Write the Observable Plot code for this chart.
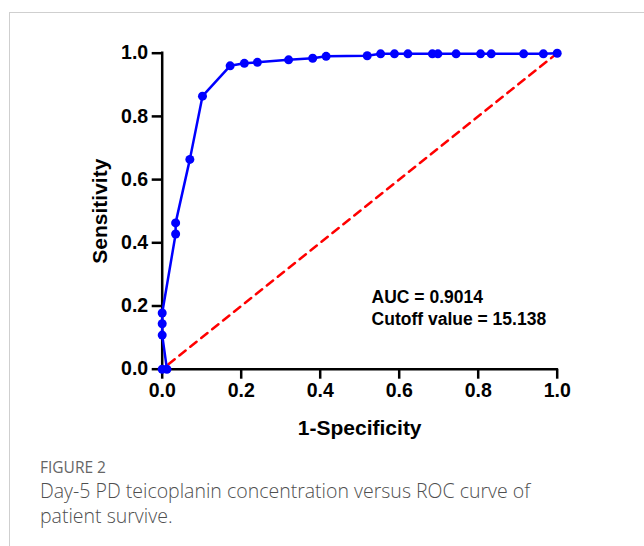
<!DOCTYPE html>
<html>
<head>
<meta charset="utf-8">
<script src="https://cdn.jsdelivr.net/npm/d3@7"></script>
<script src="https://cdn.jsdelivr.net/npm/@observablehq/plot@0.6"></script>
<style>
  html, body { margin: 0; padding: 0; background: #fff; }
  body { width: 644px; height: 546px; position: relative; overflow: hidden; }
  #frame { position: absolute; left: 9px; top: 12px; right: -2px; bottom: -2px;
           border-left: 1px solid #cfcfcf; border-top: 1px solid #cfcfcf; }
  #chart { position: absolute; left: 0; top: 0; }
  #caption { position: absolute; left: 40px; top: 456px; font-family: "Open Sans", sans-serif; color: #5f5f5f; }
  #caption .fig { font-size: 15.5px; font-weight: 400; color: #666; line-height: 22px; }
  #caption .txt { font-size: 19.5px; font-weight: 300; line-height: 25px; width: 600px; color: #4f4f4f; white-space: nowrap; }
</style>
</head>
<body>
<div id="frame"></div>
<div id="chart"></div>
<div id="caption">
  <div class="fig">FIGURE 2</div>
  <div class="txt">Day-5 PD teicoplanin concentration versus ROC curve of<br>patient survive.</div>
</div>
<script>
// ROC curve points (1-Specificity, Sensitivity), in drawing order
const fpr = [0, 0.012, 0, 0, 0, 0.034, 0.034, 0.070, 0.102, 0.172, 0.208, 0.241, 0.320, 0.381, 0.415, 0.519, 0.553, 0.588, 0.622, 0.684, 0.698, 0.744, 0.806, 0.833, 0.915, 0.965, 1.0];
const tpr = [0, 0, 0.108, 0.144, 0.178, 0.428, 0.463, 0.664, 0.864, 0.960, 0.968, 0.971, 0.979, 0.984, 0.990, 0.992, 0.998, 0.998, 0.998, 0.998, 0.998, 0.998, 0.998, 0.998, 0.998, 0.998, 1.0];
// Reference (chance) line
const refX = [0, 1];
const refY = [0, 1];
// Tick values
const xTicks = [0, 0.2, 0.4, 0.6, 0.8, 1.0];
const yTicks = [0, 0.2, 0.4, 0.6, 0.8, 1.0];
// Annotation
const annotLines = ["AUC = 0.9014", "Cutoff value = 15.138"];
const annotX = [0.53, 0.53];
const annotY = [0.226, 0.157];

const roc = fpr.map((x, i) => ({x, y: tpr[i]}));
const diag = refX.map((x, i) => ({x, y: refY[i]}));
const annot = annotLines.map((t, i) => ({t, x: annotX[i], y: annotY[i]}));

const fmt = d3.format(".1f");
const chart = Plot.plot({
  width: 644,
  height: 450,
  marginLeft: 161.7,
  marginRight: 87.3,
  marginTop: 52.7,
  marginBottom: 81.3,
  x: {domain: [0, 1]},
  y: {domain: [0, 1]},
  style: {fontFamily: "'Liberation Sans', Arial, sans-serif", fontWeight: "bold", background: "transparent", color: "black"},
  marks: [
    Plot.axisX({ticks: xTicks, tickFormat: fmt, tickSize: 10, tickPadding: 4, fontSize: 19.5, strokeWidth: 2.5, label: null}),
    Plot.axisY({ticks: yTicks, tickFormat: fmt, tickSize: 10, tickPadding: 4, fontSize: 19.5, strokeWidth: 2.5, label: null}),
    Plot.ruleX([0], {y1: 0, y2: 1, stroke: "black", strokeWidth: 2.5, strokeLinecap: "square"}),
    Plot.ruleY([0], {x1: 0, x2: 1, stroke: "black", strokeWidth: 2.5, strokeLinecap: "square"}),
    Plot.line(diag, {x: "x", y: "y", stroke: "#ff0000", strokeWidth: 2.5, strokeDasharray: "8,6", strokeDashoffset: -8}),
    Plot.line(roc, {x: "x", y: "y", stroke: "#0000ff", strokeWidth: 2.5}),
    Plot.dot(roc, {x: "x", y: "y", r: 4.5, fill: "#0000ff", stroke: "none"}),
    Plot.text(annot, {x: "x", y: "y", text: "t", textAnchor: "start", lineAnchor: "middle", fontSize: 17.5, fill: "black"}),
    Plot.text(["Sensitivity"], {frameAnchor: "left", textAnchor: "middle", lineAnchor: "middle", dx: -62, rotate: -90, fontSize: 21, fill: "black"}),
    Plot.text(["1-Specificity"], {frameAnchor: "bottom", textAnchor: "middle", dy: 59.3, lineAnchor: "middle", fontSize: 21, fill: "black"})
  ]
});
document.getElementById("chart").appendChild(chart);
</script>
</body>
</html>
